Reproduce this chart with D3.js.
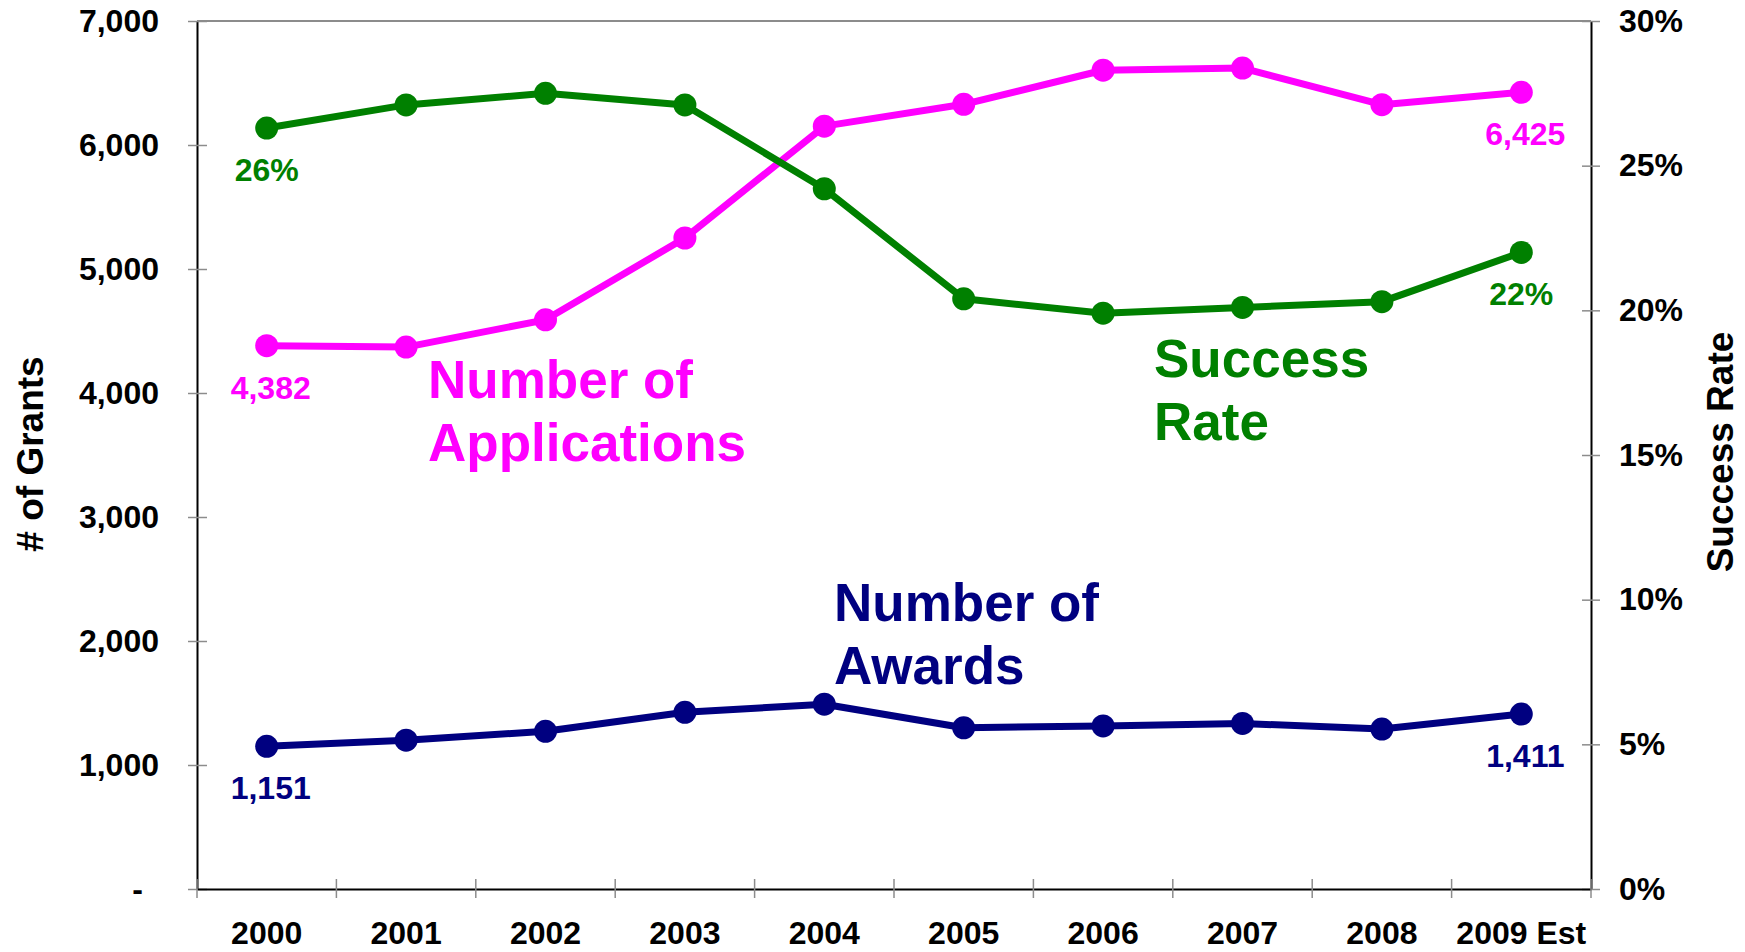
<!DOCTYPE html>
<html>
<head>
<meta charset="utf-8">
<script src="https://cdn.jsdelivr.net/npm/d3@7"></script>
<style>
  body { margin: 0; background: #fff; }
  svg { display: block; font-family: "Liberation Sans", Arial, sans-serif; font-weight: bold; }
</style>
</head>
<body>
<svg id="chart"></svg>
<script>
// data
const years = ['2000', '2001', '2002', '2003', '2004', '2005', '2006', '2007', '2008', '2009 Est']
const applications = [4382, 4370, 4590, 5250, 6152, 6328, 6603, 6620, 6325, 6425]
const awards = [1151, 1200, 1272, 1425, 1490, 1300, 1315, 1335, 1290, 1411]
const successRate = [26.3, 27.1, 27.5, 27.1, 24.2, 20.4, 19.9, 20.1, 20.3, 22.0]
const leftTicks = [0, 1000, 2000, 3000, 4000, 5000, 6000, 7000]
const rightTicks = [0, 5, 10, 15, 20, 25, 30]

const W = 1745, H = 952
const margin = {top: 21, right: 154, bottom: 63, left: 197}
const width = W - margin.left - margin.right
const height = H - margin.top - margin.bottom

const svg = d3.select('#chart').attr('width', W).attr('height', H)
const g = svg.append('g').attr('transform', 'translate(' + margin.left + ',' + margin.top + ')')

// scales
const x = d3.scaleBand().domain(years).range([0, width])
const y = d3.scaleLinear().domain([0, 7000]).range([height, 0])
const y2 = d3.scaleLinear().domain([0, 30]).range([height, 0])
const cx = d => x(d) + x.bandwidth() / 2

// top border of the plot area
g.append('line')
  .attr('x1', 0).attr('x2', width).attr('y1', 0).attr('y2', 0)
  .attr('stroke', '#8c8c8c').attr('stroke-width', 2)

// left axis
const fmt = d3.format(',')
const yAxis = g.append('g')
  .call(d3.axisLeft(y).tickValues(leftTicks).tickSize(0).tickPadding(38)
    .tickFormat(d => d === 0 ? '-' : fmt(d)))
yAxis.select('.domain').attr('stroke', '#000').attr('stroke-width', 2)
yAxis.selectAll('.tick line').attr('x1', -9).attr('x2', 10).attr('stroke', '#8c8c8c').attr('stroke-width', 1.5)
yAxis.selectAll('.tick text').attr('font-size', 32).attr('fill', '#000')
  .filter(d => d === 0).attr('dx', -16)

// right axis
const y2Axis = g.append('g')
  .attr('transform', 'translate(' + width + ',0)')
  .call(d3.axisRight(y2).tickValues(rightTicks).tickSize(0).tickPadding(28).tickFormat(d => d + '%'))
y2Axis.select('.domain').attr('stroke', '#000').attr('stroke-width', 2)
y2Axis.selectAll('.tick line').attr('x1', -9).attr('x2', 9).attr('stroke', '#8c8c8c').attr('stroke-width', 1.5)
y2Axis.selectAll('.tick text').attr('font-size', 32).attr('fill', '#000')

// bottom axis, labels in the middle of each band
const xAxis = g.append('g')
  .attr('transform', 'translate(0,' + height + ')')
  .call(d3.axisBottom(x).tickSize(0).tickPadding(32))
xAxis.select('.domain').attr('stroke', '#000').attr('stroke-width', 2)
xAxis.selectAll('.tick text').attr('font-size', 32).attr('fill', '#000')

// tick marks at band boundaries
const bounds = years.map(d => x(d)).concat([x(years[years.length - 1]) + x.step()])
xAxis.selectAll('.bound')
  .data(bounds)
  .enter().append('line')
  .attr('x1', d => d).attr('x2', d => d)
  .attr('y1', -10).attr('y2', 9)
  .attr('stroke', '#8c8c8c').attr('stroke-width', 1.5)

// axis titles
svg.append('text')
  .attr('transform', 'translate(43,454) rotate(-90)')
  .attr('text-anchor', 'middle')
  .attr('font-size', 37)
  .text('# of Grants')

svg.append('text')
  .attr('transform', 'translate(1733,452) rotate(-90)')
  .attr('text-anchor', 'middle')
  .attr('font-size', 37)
  .text('Success Rate')

// series
const series = [
  {name: 'awards', values: awards, scale: y, color: '#000080'},
  {name: 'applications', values: applications, scale: y, color: '#ff00ff'},
  {name: 'success', values: successRate, scale: y2, color: '#008000'}
]

series.forEach(function(s) {
  const pts = years.map((d, i) => ({year: d, v: s.values[i]}))
  const line = d3.line()
    .x(d => cx(d.year))
    .y(d => s.scale(d.v))

  g.append('path')
    .datum(pts)
    .attr('fill', 'none')
    .attr('stroke', s.color)
    .attr('stroke-width', 7)
    .attr('stroke-linejoin', 'round')
    .attr('d', line)

  g.selectAll('.dot-' + s.name)
    .data(pts)
    .enter().append('circle')
    .attr('cx', d => cx(d.year))
    .attr('cy', d => s.scale(d.v))
    .attr('r', 11.5)
    .attr('fill', s.color)

  // first and last value labels
  const ends = [pts[0], pts[pts.length - 1]]
  g.selectAll('.lab-' + s.name)
    .data(ends)
    .enter().append('text')
    .attr('x', d => cx(d.year))
    .attr('y', d => s.scale(d.v) + 53)
    .attr('dx', s.name === 'success' ? 0 : 4)
    .attr('text-anchor', 'middle')
    .attr('font-size', 32)
    .attr('fill', s.color)
    .text(d => s.name === 'success' ? Math.round(d.v) + '%' : fmt(d.v))
})

// series names inside the plot
function seriesName(lines, xPos, yPos, color) {
  const t = svg.append('text')
    .attr('x', xPos).attr('y', yPos)
    .attr('font-size', 53)
    .attr('fill', color)
  lines.forEach(function(l, i) {
    t.append('tspan').attr('x', xPos).attr('dy', i === 0 ? 0 : 63).text(l)
  })
}
seriesName(['Number of', 'Applications'], 428, 398, '#ff00ff')
seriesName(['Success', 'Rate'], 1154, 377, '#008000')
seriesName(['Number of', 'Awards'], 834, 621, '#000080')
</script>
</body>
</html>
